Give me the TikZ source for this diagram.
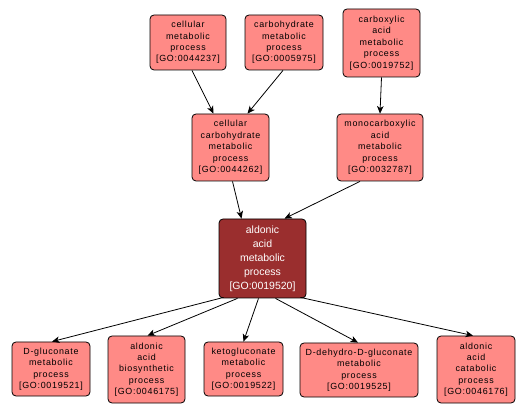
\documentclass[tikz,border=0pt]{standalone}
\usepackage{fontspec}
\setmainfont{Liberation Sans}[LetterSpace=8]
\newfontfamily\plainfont{Liberation Sans}
\usetikzlibrary{arrows.meta,calc}
\definecolor{salmon}{HTML}{FF8A86}
\definecolor{darkred}{HTML}{9A2E2E}
\tikzset{
  term/.style={draw=black, line width=0.8pt, rounded corners=4pt, fill=salmon,
    align=center, inner sep=0pt, font=\fontsize{8.9}{11.4}\selectfont, text=black},
  focus/.style={term, fill=darkred, text=white, font=\plainfont\fontsize{10.5}{14}\selectfont},
  edge/.style={line width=0.8pt, -{Stealth[length=7.5pt,width=6.5pt,inset=2pt]}},
}
\begin{document}
\begin{tikzpicture}[x=1pt,y=-1pt]
\useasboundingbox (0,0) rectangle (528,414);
\node[term, minimum width=76pt, minimum height=55pt] (n1) at (188,42.5) {cellular\\metabolic\\process\\{[}GO:0044237{]}};
\node[term, minimum width=78pt, minimum height=55pt] (n2) at (284,42.5) {carbohydrate\\metabolic\\process\\{[}GO:0005975{]}};
\node[term, minimum width=77pt, minimum height=68pt] (n3) at (381.5,43) {carboxylic\\acid\\metabolic\\process\\{[}GO:0019752{]}};
\node[term, minimum width=77pt, minimum height=67pt] (n4) at (230.5,147.5) {cellular\\carbohydrate\\metabolic\\process\\{[}GO:0044262{]}};
\node[term, minimum width=86pt, minimum height=67pt] (n5) at (380,147.5) {monocarboxylic\\acid\\metabolic\\process\\{[}GO:0032787{]}};
\node[focus, minimum width=87pt, minimum height=79pt] (n6) at (262.5,258.5) {aldonic\\acid\\metabolic\\process\\{[}GO:0019520{]}};
\node[term, minimum width=78pt, minimum height=54pt] (b1) at (51,369) {D-gluconate\\metabolic\\process\\{[}GO:0019521{]}};
\node[term, minimum width=77pt, minimum height=67pt] (b2) at (146.5,369.5) {aldonic\\acid\\biosynthetic\\process\\{[}GO:0046175{]}};
\node[term, minimum width=79pt, minimum height=54pt] (b3) at (243.5,369) {ketogluconate\\metabolic\\process\\{[}GO:0019522{]}};
\node[term, minimum width=118pt, minimum height=54pt] (b4) at (359,370) {D-dehydro-D-gluconate\\metabolic\\process\\{[}GO:0019525{]}};
\node[term, minimum width=78pt, minimum height=67pt] (b5) at (476,369.5) {aldonic\\acid\\catabolic\\process\\{[}GO:0046176{]}};
\draw[edge] ($(n1.south)+(4,0)$) -- ($(n4.north)+(-17,0)$);
\draw[edge] ($(n2.south)+(-1,0)$) -- ($(n4.north)+(17,0)$);
\draw[edge] (n3.south) -- (n5.north);
\draw[edge] ($(n4.south)+(2,0)$) -- ($(n6.north)+(-21,0)$);
\draw[edge] ($(n5.south)+(-20,0)$) -- ($(n6.north)+(22,0)$);
\draw[edge] ($(n6.south west)+(5,-1)$) -- ($(b1.north)+(1,0)$);
\draw[edge] ($(n6.south)+(-25,0)$) -- ($(b2.north)+(1,0)$);
\draw[edge] ($(n6.south)+(-4,0)$) -- ($(b3.north)+(0,0)$);
\draw[edge] ($(n6.south)+(13,0)$) -- ($(b4.north)+(-1,0)$);
\draw[edge] ($(n6.south east)+(-6,-1)$) -- ($(b5.north)+(-3,0)$);
\end{tikzpicture}
\end{document}
